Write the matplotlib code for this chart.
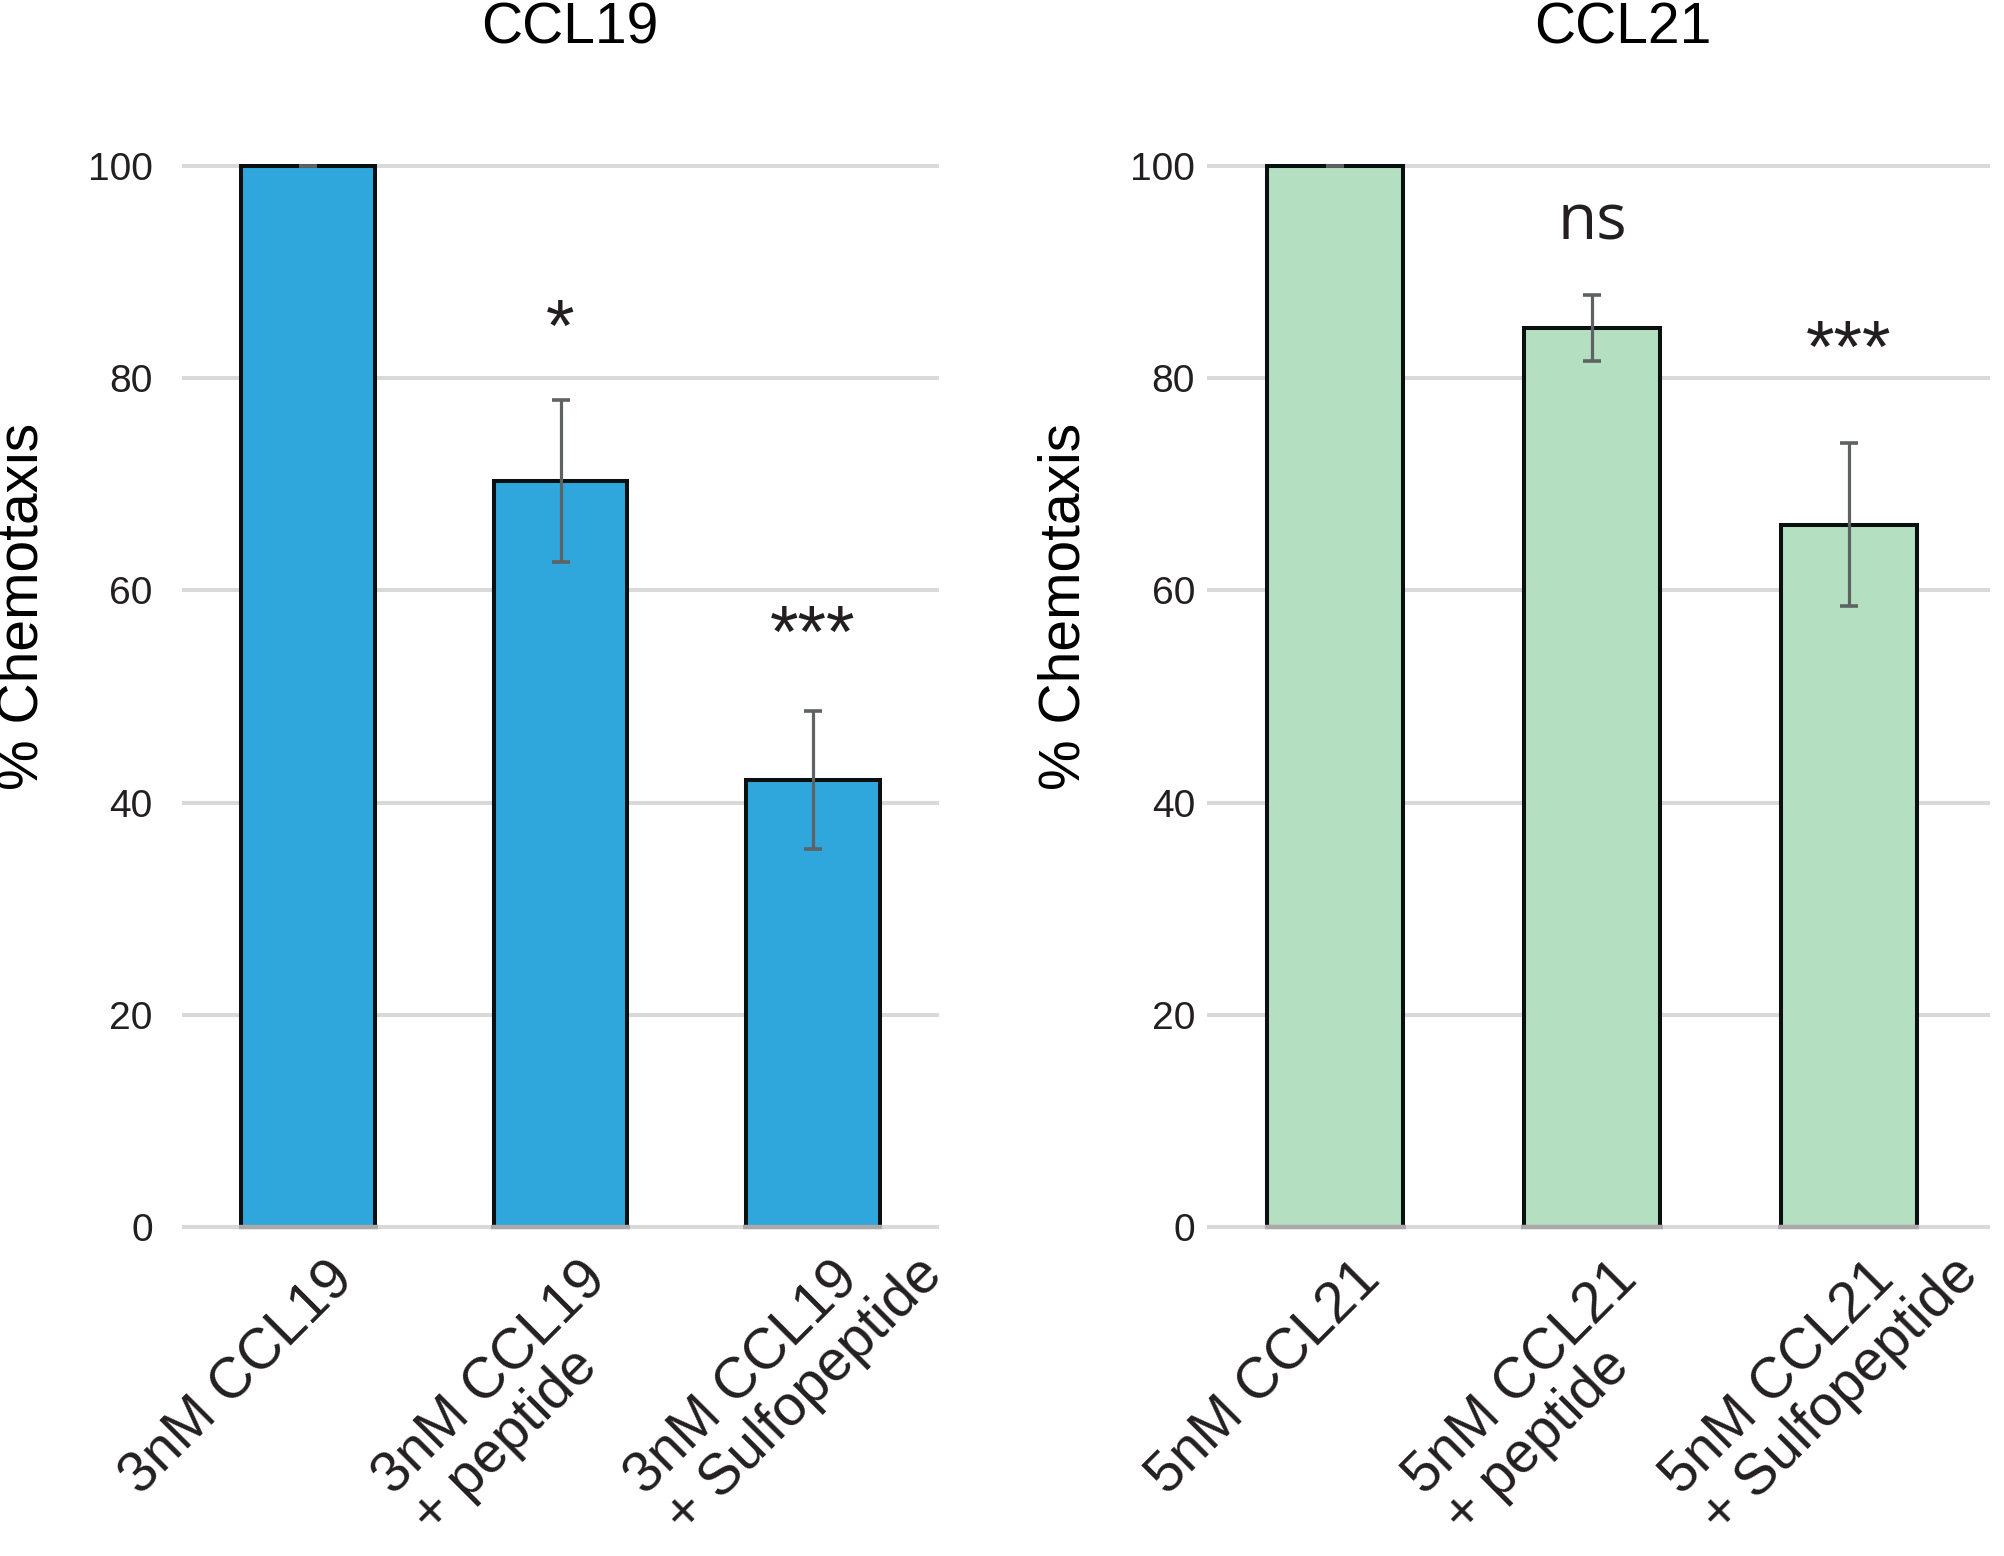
import matplotlib
matplotlib.use('Agg')
import matplotlib.pyplot as plt
from matplotlib.transforms import ScaledTranslation
from matplotlib.font_manager import FontProperties

plt.rcParams['font.family'] = ['Liberation Sans', 'DejaVu Sans']

# data (% chemotaxis, mean and error)
ccl19_labels = ['3nM CCL19', '3nM CCL19\n+ peptide', '3nM CCL19\n+ Sulfopeptide']
ccl19_means = [100, 70.3, 42.1]
ccl19_err = [0, 7.6, 6.5]
ccl19_marks = ['', '*', '***']
ccl19_mark_y = [None, 85.9, 57.0]

ccl21_labels = ['5nM CCL21', '5nM CCL21\n+ peptide', '5nM CCL21\n+ Sulfopeptide']
ccl21_means = [100, 84.7, 66.2]
ccl21_err = [0, 3.1, 7.7]
ccl21_marks = ['', 'ns', '***']
ccl21_mark_y = [None, 95.0, 83.9]

yticks = [0, 20, 40, 60, 80, 100]

W, H = 2004, 1556
fig = plt.figure(figsize=(W / 100, H / 100), dpi=100)
renderer = fig.canvas.get_renderer()

bottom = 1 - 1237.6 / H
height = (1237.6 - 144.8) / H
ax1 = fig.add_axes([182 / W, bottom, (939 - 182) / W, height])
ax2 = fig.add_axes([1207 / W, bottom, (1990 - 1207) / W, height])

TEXT = '#231f20'
LABEL_SIZE = 41


def draw_panel(ax, labels, means, err, marks, mark_y, color, xmax, ypad):
    x = list(range(len(means)))
    width = 0.53
    ax.bar(x, means, width=width, color=color, edgecolor='#0a0f10',
           linewidth=2.9, zorder=3)
    ax.errorbar(x, means, yerr=err, fmt='none', ecolor='#5e6262',
                elinewidth=2.3, capsize=6.3, capthick=2.6, zorder=4)
    # grey line under each bar at the baseline
    ax.hlines([0] * len(x), [xi - width / 2 - 0.01 for xi in x],
              [xi + width / 2 + 0.01 for xi in x], color='#a9a9a9',
              linewidth=3.2, zorder=5)

    # significance marks, mark_y is the centre of the glyphs
    for xi, mark, my in zip(x, marks, mark_y):
        if not mark:
            continue
        if mark == 'ns':
            ax.text(xi, my - 1.9, mark, ha='center', va='baseline',
                    fontsize=46, family='Open Sans', color=TEXT, zorder=6)
        else:
            ax.text(xi, my - 3.3, mark, ha='center', va='baseline',
                    fontsize=53, color=TEXT, zorder=6)

    ax.set_xlim(-0.5, xmax)
    ax.set_ylim(-1, 102)
    ax.set_yticks(yticks)
    ax.set_yticklabels([str(t) for t in yticks], fontsize=28, color=TEXT)
    ax.yaxis.grid(True, color='#d9d9d9', linewidth=2.9, zorder=0)
    ax.set_axisbelow(True)
    for s in ax.spines.values():
        s.set_visible(False)
    ax.tick_params(axis='y', length=0, pad=ypad)
    ax.tick_params(axis='x', length=0, pad=0)

    # rotated labels: the end of the first line sits just right of the tick,
    # a longer second line runs on past it
    ax.set_xticks(x)
    ax.set_xticklabels(labels, fontsize=LABEL_SIZE, color=TEXT, rotation=45,
                       ha='left', va='top', rotation_mode='anchor',
                       multialignment='left', linespacing=1.05)
    prop = FontProperties(family=['Liberation Sans'], size=LABEL_SIZE)
    for lab in ax.get_xticklabels():
        first = lab.get_text().split('\n')[0]
        w1, _, _ = renderer.get_text_width_height_descent(first, prop, ismath=False)
        w1 = w1 * 72 / fig.dpi * 0.7071
        shift = ScaledTranslation((13 - w1) / 72, (-10 - w1) / 72,
                                  fig.dpi_scale_trans)
        lab.set_transform(lab.get_transform() + shift)


draw_panel(ax1, ccl19_labels, ccl19_means, ccl19_err, ccl19_marks,
           ccl19_mark_y, '#2fa6dc', 2.5, 21)
draw_panel(ax2, ccl21_labels, ccl21_means, ccl21_err, ccl21_marks,
           ccl21_mark_y, '#b5dfc1', 2.55, 8.6)

# panel titles
fig.text(570 / W, 1 - 43 / H, 'CCL19', ha='center', va='baseline',
         fontsize=41, color='black')
fig.text(1623 / W, 1 - 43 / H, 'CCL21', ha='center', va='baseline',
         fontsize=41, color='black')

# y axis labels
fig.text(23 / W, 1 - 606 / H, '% Chemotaxis', rotation=90, ha='center',
         va='center', fontsize=41, color='black')
fig.text(1065 / W, 1 - 606 / H, '% Chemotaxis', rotation=90, ha='center',
         va='center', fontsize=41, color='black')

fig.savefig('out.png', dpi=100)
